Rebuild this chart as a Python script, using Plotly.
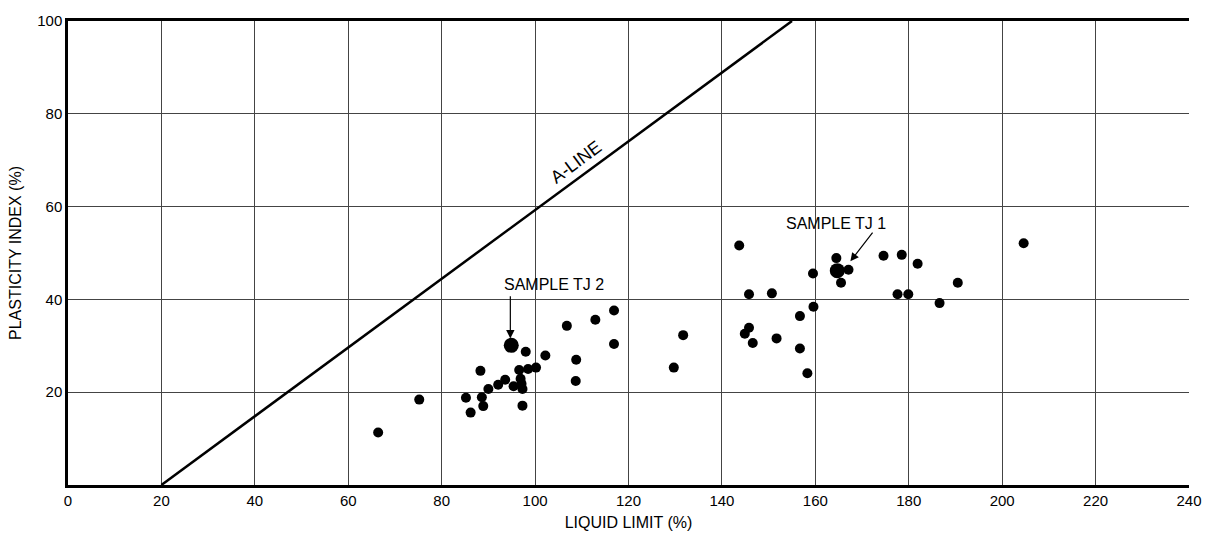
import plotly.graph_objects as go

# Samples: liquid limit (%) and plasticity index (%)
ll = [66.4, 75.2, 85.2, 86.2, 88.6, 88.9, 88.3, 90.0, 92.1, 93.6, 95.4, 98.0, 96.6,
      98.5, 100.2, 102.2, 96.9, 97.3, 97.3, 97.1,
      106.8, 108.8, 108.7, 112.9, 116.9, 116.9, 131.7, 129.7,
      143.7, 145.8, 150.7, 159.5, 164.5, 167.1, 165.5, 174.6, 178.5, 181.9, 177.6, 179.9,
      190.5, 186.6, 159.6, 156.7, 145.8, 144.9, 146.6, 151.7, 156.7, 158.3, 204.6]
pi = [11.3, 18.4, 18.8, 15.6, 18.9, 17.0, 24.6, 20.7, 21.6, 22.7, 21.3, 28.7, 24.8,
      25.0, 25.3, 27.9, 22.9, 20.7, 17.1, 21.8,
      34.3, 27.0, 22.4, 35.6, 37.6, 30.4, 32.3, 25.3,
      51.6, 41.1, 41.3, 45.6, 48.9, 46.4, 43.6, 49.4, 49.6, 47.7, 41.1, 41.1,
      43.6, 39.2, 38.4, 36.4, 33.9, 32.6, 30.6, 31.6, 29.4, 24.1, 52.1]

# Highlighted samples
tj_names = ["SAMPLE TJ 1", "SAMPLE TJ 2"]
tj_ll = [164.7, 94.9]
tj_pi = [46.2, 30.1]

# A-line end points
aline_ll = [20, 155]
aline_pi = [0, 100]

xticks = [0, 20, 40, 60, 80, 100, 120, 140, 160, 180, 200, 220, 240]
yticks = [20, 40, 60, 80, 100]

font = "Liberation Sans, Arial, sans-serif"

fig = go.Figure()
fig.add_trace(go.Scatter(x=aline_ll, y=aline_pi, mode="lines",
                         line=dict(color="black", width=2.5), hoverinfo="skip"))
fig.add_trace(go.Scatter(x=ll, y=pi, mode="markers",
                         marker=dict(color="black", size=10)))
fig.add_trace(go.Scatter(x=tj_ll, y=tj_pi, mode="markers",
                         marker=dict(color="black", size=15)))

# Labels and arrows
fig.add_annotation(x=104, y=43.3, text=tj_names[1], showarrow=False,
                   font=dict(size=16, color="black", family=font))
fig.add_annotation(x=94.7, y=31.6, ax=94.7, ay=41.0, axref="x", ayref="y",
                   text="", showarrow=True, arrowhead=2, arrowsize=1.4,
                   arrowwidth=1.2, arrowcolor="black")
fig.add_annotation(x=164.5, y=56.4, text=tj_names[0], showarrow=False,
                   font=dict(size=16, color="black", family=font))
fig.add_annotation(x=167.5, y=48.2, ax=172.5, ay=54.7, axref="x", ayref="y",
                   text="", showarrow=True, arrowhead=2, arrowsize=1.4,
                   arrowwidth=1.2, arrowcolor="black")
fig.add_annotation(x=108.8, y=69.6, text="A-LINE", showarrow=False, textangle=-36.5,
                   font=dict(size=18, color="black", family=font))

fig.update_layout(
    width=1214, height=542,
    margin=dict(l=68, r=15, t=17, b=54),
    paper_bgcolor="white", plot_bgcolor="white",
    showlegend=False,
    font=dict(family=font, size=15, color="black"),
    xaxis=dict(range=[0, 240], tickvals=xticks, ticktext=[str(v) for v in xticks],
               showgrid=True, gridcolor="#444", gridwidth=1, zeroline=False,
               showline=True, linecolor="black", linewidth=2.5, mirror=True,
               ticks="", title=dict(text="LIQUID LIMIT (%)", font=dict(size=16), standoff=10),
               tickfont=dict(size=15)),
    yaxis=dict(range=[0, 100], tickvals=yticks, ticktext=[str(v) for v in yticks],
               showgrid=True, gridcolor="#444", gridwidth=1, zeroline=False,
               showline=True, linecolor="black", linewidth=2.5, mirror=False,
               ticks="", title=dict(text="PLASTICITY INDEX (%)", font=dict(size=16), standoff=12),
               tickfont=dict(size=15)),
)

fig.write_html("out.html")
